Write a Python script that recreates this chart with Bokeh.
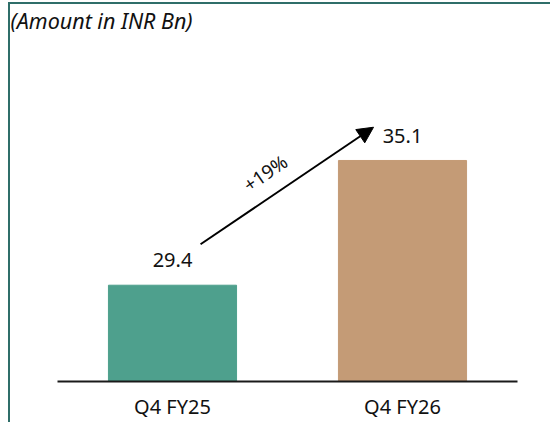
import math
from bokeh.plotting import figure
from bokeh.models import FactorRange, Range1d, Arrow, NormalHead, ColumnDataSource
from bokeh.core.properties import value
from bokeh.embed import file_html
from bokeh.resources import INLINE

categories = ["Q4 FY25", "Q4 FY26"]
amounts = [29.4, 35.1]
bar_colors = ["#4EA08D", "#C49B76"]
value_labels = ["29.4", "35.1"]
title_text = "(Amount in INR Bn)"

growth = round((amounts[1] / amounts[0] - 1) * 100)
growth_label = f"+{growth}%"

Y_MIN = 25.0
Y_MAX = 40.72
FONT = "Noto Sans"
TEAL = "#2F6E69"

p = figure(
    width=550, height=422,
    x_range=FactorRange(factors=categories),
    y_range=Range1d(Y_MIN, Y_MAX),
    output_backend="svg", toolbar_location=None,
    y_axis_location=None,
    min_border_left=57, min_border_right=33,
    min_border_top=32, min_border_bottom=39,
)
p.background_fill_color = None
p.border_fill_color = None
p.styles = {
    "margin-bottom": "-8px",
    "background": (f"linear-gradient({TEAL},{TEAL}) 8px 2px / 2px 100% no-repeat, "
                   f"linear-gradient({TEAL},{TEAL}) 8px 2px / 100% 2px no-repeat, #ffffff"),
}
p.outline_line_color = None
p.xgrid.visible = False
p.ygrid.visible = False

src = ColumnDataSource(dict(x=categories, top=amounts, color=bar_colors,
                            label=value_labels,
                            ly=[a + 1.14 for a in amounts]))
p.vbar(x="x", top="top", bottom=Y_MIN, width=0.557, color="color", source=src)
p.text(x="x", y="ly", text="label", source=src,
       text_font=value(FONT), text_font_size="20px", text_color="#111111",
       text_align="center", text_baseline="alphabetic")

# growth arrow between the two bars
xs, ys = 0.5 + 0.122, amounts[0] + 1.87
xe, ye = 1.5 - 0.126, amounts[1] + 1.52
p.add_layout(Arrow(x_start=xs, y_start=ys, x_end=xe, y_end=ye,
                   line_width=2, line_color="black",
                   end=NormalHead(size=16, fill_color="black", line_color="black")))
px_per_x = 460 / 2
px_per_y = 351 / (Y_MAX - Y_MIN)
ang = math.atan2((ye - ys) * px_per_y, (xe - xs) * px_per_x)
p.text(x=[0.904], y=[amounts[0] + 5.12], text=[growth_label], angle=ang,
       text_font=value(FONT), text_font_size="19px", text_color="#111111",
       text_align="center", text_baseline="middle")

ax = p.xaxis[0]
ax.axis_line_width = 2
ax.axis_line_color = "#1A1A1A"
ax.major_tick_line_color = None
ax.minor_tick_line_color = None
ax.major_tick_out = 0
ax.major_tick_in = 0
ax.major_label_standoff = 11
ax.major_label_text_font = FONT
ax.major_label_text_font_size = "20px"
ax.major_label_text_color = "#111111"

p.title.text = title_text
p.title.text_font = FONT
p.title.text_font_style = "italic"
p.title.text_font_size = "21.5px"
p.title.text_color = "#111111"
p.title.align = "left"
p.title.offset = -47
p.title.standoff = 6

open("out.html", "w").write(file_html(p, INLINE))
